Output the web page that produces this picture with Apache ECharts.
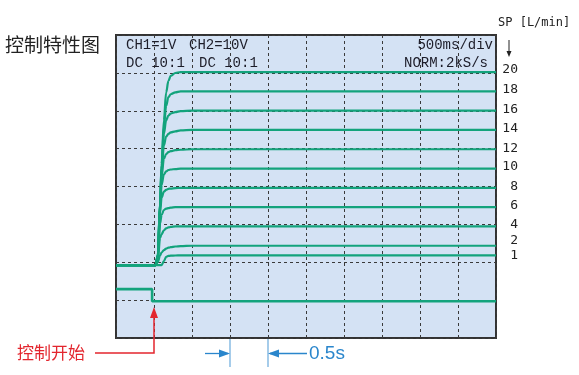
<!DOCTYPE html>
<html><head><meta charset="utf-8">
<script src="https://cdn.jsdelivr.net/npm/echarts@6/dist/echarts.min.js"></script>
<style>html,body{margin:0;padding:0;background:#fff}#c{width:579px;height:375px}</style>
</head><body><div id="c"></div>
<script>
// time axis (s), 500 ms / div, 10 div
const times = [0, 0.52, 0.55, 0.58, 0.60, 0.63, 0.66, 0.69, 0.72, 0.78, 0.85, 1.00, 1.30, 5.00];
// flow traces (L/min) for each set point
const spNames = ['20', '18', '16', '14', '12', '10', '8', '6', '4', '2', '1'];
const flow20 = [0, 0, 1.0, 6.5, 10.5, 15.0, 17.9, 19.1, 19.6, 19.9, 20.0, 20.0, 20.0, 20.0];
const flow18 = [0, 0, 1.0, 6.5, 10.3, 14.3, 16.5, 17.4, 17.7, 17.9, 18.0, 18.0, 18.0, 18.0];
const flow16 = [0, 0, 1.0, 6.4, 10.0, 13.6, 15.0, 15.5, 15.7, 15.85, 15.95, 16.0, 16.0, 16.0];
const flow14 = [0, 0, 0.9, 6.2, 9.6, 12.4, 13.3, 13.6, 13.75, 13.85, 13.95, 14.0, 14.0, 14.0];
const flow12 = [0, 0, 0.9, 6.0, 9.2, 11.0, 11.5, 11.7, 11.8, 11.9, 11.95, 12.0, 12.0, 12.0];
const flow10 = [0, 0, 0.8, 5.8, 8.3, 9.4, 9.7, 9.85, 9.9, 9.95, 10.0, 10.0, 10.0, 10.0];
const flow8  = [0, 0, 0.8, 5.4, 7.0, 7.6, 7.8, 7.9, 7.93, 7.97, 8.0, 8.0, 8.0, 8.0];
const flow6  = [0, 0, 0.6, 4.3, 5.2, 5.7, 5.85, 5.9, 5.95, 6.0, 6.0, 6.0, 6.0, 6.0];
const flow4  = [0, 0, 0.5, 2.8, 3.2, 3.6, 3.8, 3.9, 3.95, 4.0, 4.0, 4.0, 4.0, 4.0];
const flow2  = [0, 0, 0.3, 1.0, 1.3, 1.55, 1.7, 1.8, 1.85, 1.92, 1.96, 2.0, 2.0, 2.0];
const flow1  = [0, 0, 0, 0, 0, 0.4, 0.85, 0.95, 0.97, 0.99, 1.0, 1.0, 1.0, 1.0];
const flows = [flow20, flow18, flow16, flow14, flow12, flow10, flow8, flow6, flow4, flow2, flow1];
// label vertical nudges (px) for SP labels
const labelNudge = [-2, -1.7, -1.4, -1.7, -0.7, -1.6, -1, -1.7, -2, -5.3, 0];
// control signal (CH2), in screen divisions
const ch2Times = [0, 0.475, 0.475, 5.0];
const ch2Div = [1.29, 1.29, 0.97, 0.97];
// control start and 0.5 s marker times
const controlStart = 0.5;
const markerTimes = [1.5, 2.0];

const GREEN = '#13a37c';
const chart = echarts.init(document.getElementById('c'), null, {renderer: 'canvas'});

const series = flows.map((vals, k) => ({
  name: spNames[k], type: 'line', xAxisIndex: 0, yAxisIndex: 0,
  data: times.map((t, i) => [t, vals[i]]),
  smooth: 0.35, smoothMonotone: 'x', showSymbol: false, symbol: 'none',
  lineStyle: {color: GREEN, width: 2.2}, z: 3
}));
series.push({
  name: 'CH2', type: 'line', xAxisIndex: 0, yAxisIndex: 1,
  data: ch2Times.map((t, i) => [t, ch2Div[i]]),
  showSymbol: false, symbol: 'none',
  lineStyle: {color: GREEN, width: 2.6}, z: 3
});

const dashed = {show: true, lineStyle: {color: '#3a3a3a', width: 1, type: [3, 3]}};
chart.setOption({
  animation: false,
  grid: {left: 116, top: 35, width: 380, height: 303, show: true,
         backgroundColor: '#d4e2f4', borderColor: '#333', borderWidth: 2},
  xAxis: [{type: 'value', min: 0, max: 5, interval: 0.5,
           axisLabel: {show: false}, axisTick: {show: false}, axisLine: {show: false},
           splitLine: dashed}],
  yAxis: [
    {type: 'value', min: -7.56, max: 23.84, show: false, splitLine: {show: false}},
    {type: 'value', min: 0, max: 8, interval: 1,
     axisLabel: {show: false}, axisTick: {show: false}, axisLine: {show: false},
     splitLine: dashed}
  ],
  series: series
});

const px = (t, v, yi) => chart.convertToPixel({xAxisIndex: 0, yAxisIndex: yi}, [t, v]);
function txt(text, x, y, font, fill, align) {
  return {type: 'text', z: 10, style: {text: text, x: x, y: y, font: font, fill: fill,
    align: align || 'left', verticalAlign: 'middle',
    textAlign: align || 'left', textVerticalAlign: 'middle'}};
}
const mono = '"Liberation Mono", "DejaVu Sans Mono", monospace';
const g = [];
g.push(txt('控制特性图', 5, 45, '19px "Noto Sans CJK SC"', '#222'));
g.push(txt('CH1=1V', 126, 45, '14px ' + mono, '#1c1c28'));
g.push(txt('CH2=10V', 189, 45, '14px ' + mono, '#1c1c28'));
g.push(txt('DC 10:1', 126, 63, '14px ' + mono, '#1c1c28'));
g.push(txt('DC 10:1', 199, 63, '14px ' + mono, '#1c1c28'));
g.push(txt('500ms/div', 493, 45, '14px ' + mono, '#1c1c28', 'right'));
g.push(txt('NORM:2kS/s', 488, 63, '14px ' + mono, '#1c1c28', 'right'));
g.push(txt('SP [L/min]', 498, 23, '12px "DejaVu Sans Mono", monospace', '#222'));
// down arrow
g.push({type: 'line', z: 10, shape: {x1: 509, y1: 40, x2: 509, y2: 53}, style: {stroke: '#222', lineWidth: 1}});
g.push({type: 'polygon', z: 10, shape: {points: [[506.5, 51], [511.5, 51], [509, 57]]}, style: {fill: '#222'}});
// SP labels
flows.forEach((vals, k) => {
  const p = px(times[times.length - 1], vals[vals.length - 1], 0);
  g.push(txt(spNames[k], 518, p[1] + labelNudge[k], '13px "DejaVu Sans Mono", monospace', '#222', 'right'));
});
// control start annotation
const RED = '#e3262e';
const cs = px(controlStart, 0, 1);
g.push(txt('控制开始', 17, 353, '17px "Noto Sans CJK SC"', RED));
g.push({type: 'polyline', z: 10, shape: {points: [[95, 353], [cs[0], 353], [cs[0], 316]]},
        style: {stroke: RED, lineWidth: 1.5, fill: null}});
g.push({type: 'polygon', z: 10, shape: {points: [[cs[0] - 4, 318], [cs[0] + 4, 318], [cs[0], 307]]},
        style: {fill: RED}});
// 0.5 s annotation
const BLUE = '#2a86cc';
const m1 = px(markerTimes[0], 0, 1)[0], m2 = px(markerTimes[1], 0, 1)[0];
g.push({type: 'line', z: 10, shape: {x1: m1, y1: 339, x2: m1, y2: 367}, style: {stroke: '#6aaadc', lineWidth: 1.2}});
g.push({type: 'line', z: 10, shape: {x1: m2, y1: 339, x2: m2, y2: 367}, style: {stroke: '#6aaadc', lineWidth: 1.2}});
g.push({type: 'line', z: 10, shape: {x1: 205, y1: 353.5, x2: m1 - 2, y2: 353.5}, style: {stroke: BLUE, lineWidth: 1.3}});
g.push({type: 'polygon', z: 10, shape: {points: [[m1 - 11, 349.5], [m1 - 11, 357.5], [m1, 353.5]]}, style: {fill: BLUE}});
g.push({type: 'line', z: 10, shape: {x1: m2 + 2, y1: 353.5, x2: 307, y2: 353.5}, style: {stroke: BLUE, lineWidth: 1.3}});
g.push({type: 'polygon', z: 10, shape: {points: [[m2 + 11, 349.5], [m2 + 11, 357.5], [m2, 353.5]]}, style: {fill: BLUE}});
g.push(txt('0.5s', 309, 354, '19px "Liberation Sans", Arial, sans-serif', BLUE));
chart.setOption({graphic: {elements: g}});
</script>
</body></html>
